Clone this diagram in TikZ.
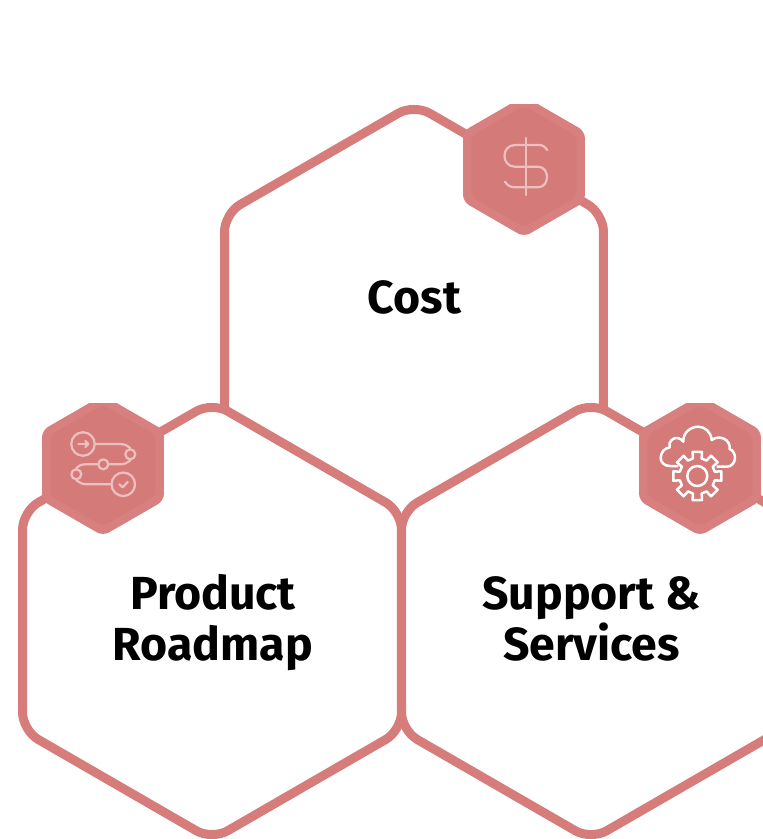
\documentclass[tikz,border=0pt]{standalone}
\usepackage{fontspec}
\setmainfont{Fira Sans}
\usetikzlibrary{positioning,calc}
\definecolor{hexline}{HTML}{D67D7B}
\definecolor{hexouter}{HTML}{D7807F}
\definecolor{hexinner}{HTML}{D47A78}
\definecolor{iconline}{HTML}{EDBFBF}
\newcommand{\hexpath}[1]{(30:#1) -- (90:#1) -- (150:#1) -- (210:#1) -- (270:#1) -- (330:#1) -- cycle}
\tikzset{
  bighex/.style={draw=hexline,line width=0.18cm,fill=white,rounded corners=0.36cm},
  outerhex/.style={fill=hexouter,rounded corners=0.14cm},
  innerhex/.style={fill=hexinner,rounded corners=0.1cm},
  iconpen/.style={draw=iconline,line width=0.045cm,line cap=round,line join=round},
  gearpen/.style={draw=white,line width=0.05cm,line join=round},
  title/.style={font=\fontsize{26.4}{29.5}\selectfont\bfseries,align=center,text=black}
}
\begin{document}
\begin{tikzpicture}[x=0.02cm,y=-0.02cm]
      \useasboundingbox (0,0) rectangle (763,839);
      \clip (0,0) rectangle (763,839);

      \coordinate (cost) at (414,323);
      \coordinate (roadmap) at (212,621);
      \coordinate (services) at (591,621);
      \coordinate (dollar) at (524,166.5);
      \coordinate (steps) at (103,465.5);
      \coordinate (cloud) at (700,465.5);

      \draw[bighex,shift={(cost)}] \hexpath{218.8};
      \draw[bighex,shift={(services)}] \hexpath{218.8};
      \draw[bighex,shift={(roadmap)}] \hexpath{218.8};

      \node[title] (costtext) at (414.5,297) {Cost};
      \node[title] (roadmaptext) at (213,622.5) {Product\\Roadmap};
      \node[title] (servicestext) at (591.5,619) {Support \&\\Services};

      \begin{scope}
        \clip (440,104) rectangle (610,240);
        \fill[outerhex,shift={(dollar)}] \hexpath{70.4};
        \fill[innerhex,shift={(dollar)}] \hexpath{60.6};
      \end{scope}
      \begin{scope}
        \clip (20,403) rectangle (763,540);
        \fill[outerhex,shift={(steps)}] \hexpath{70.4};
        \fill[innerhex,shift={(steps)}] \hexpath{60.6};
        \fill[outerhex,shift={(cloud)}] \hexpath{70.4};
        \fill[innerhex,shift={(cloud)}] \hexpath{60.6};
      \end{scope}

      % dollar icon
      \draw[iconpen] (526.3,138) -- (526.3,195);
      \draw[iconpen] (547.3,150) .. controls (545,147) and (543,145) .. (539,145)
        -- (515,145) .. controls (501,145) and (501,166.7) .. (515,166.7)
        -- (538,166.7) .. controls (550,166.7) and (550,187.3) .. (538,187.3)
        -- (515,187.3) .. controls (510,187.3) and (507,185) .. (505,181.7);

      % steps icon
      \node[iconpen,circle,inner sep=0pt,minimum size=0.47cm] (start) at (83,444) {};
      \node[iconpen,circle,inner sep=0pt,minimum size=0.47cm] (finish) at (123.3,484.3) {};
      \node[iconpen,circle,inner sep=0pt,minimum size=0.2cm] (stepa) at (130.3,454.3) {};
      \node[iconpen,circle,inner sep=0pt,minimum size=0.2cm] (stepb) at (103.3,464.3) {};
      \node[iconpen,circle,inner sep=0pt,minimum size=0.2cm] (stepc) at (76.3,474.3) {};
      \draw[iconpen] (start.east) -- (120,444) .. controls (125,444) and (128,446) .. (stepa.north);
      \draw[iconpen] (stepa.south) .. controls (129,461) and (126,464.3) .. (121,464.3) -- (stepb.east);
      \draw[iconpen] (stepb.west) -- (86,464.3) .. controls (81,464.3) and (78,466) .. (stepc.north);
      \draw[iconpen] (stepc.south) .. controls (78,481) and (81,484.3) .. (86,484.3) -- (finish.west);
      \draw[iconpen] (78.3,444) -- (88.3,444);
      \draw[iconpen] (85.3,441) -- (88.3,444) -- (85.3,447);
      \draw[iconpen] (119.3,484.3) -- (122.7,487.3) -- (127.7,482);

      % cloud icon
      \draw[gearpen] (678.3,466) -- (670,466)
        .. controls (664,466) and (660.7,462) .. (660.7,458)
        .. controls (660.7,452) and (665,448) .. (669.5,447.5)
        .. controls (668,441) and (674,437) .. (678,438)
        .. controls (680,438.5) and (682,440) .. (683.3,441.7)
        .. controls (683,432) and (691,426.7) .. (698.3,426.7)
        .. controls (705,426.7) and (711,432) .. (711.7,440)
        .. controls (720,434) and (731,440) .. (729.5,449)
        .. controls (733,450) and (735,454) .. (735,458)
        .. controls (735,463) and (731,466.7) .. (727,466.7)
        -- (716.7,466.7);
      \draw[gearpen,shift={(697.3,476)}] (-11:24.5)
        \foreach \ang in {0,45,...,315} {
          -- ($(\ang-11:24.5)$) -- ($(\ang+11:24.5)$) -- ($(\ang+14:18)$) -- ($(\ang+31:18)$)
        } -- cycle;
      \draw[gearpen] (697.3,476) circle (10);
\end{tikzpicture}
\end{document}
